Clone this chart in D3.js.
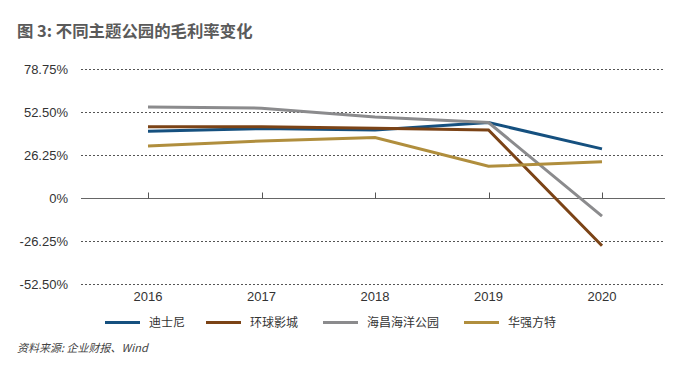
<!DOCTYPE html>
<html>
<head>
<meta charset="utf-8">
<script src="https://cdn.jsdelivr.net/npm/d3@7"></script>
<style>
body { margin:0; background:#fff; }
text { font-family: "Liberation Sans", "Noto Sans CJK SC", sans-serif; }
</style>
</head>
<body>
<script>
var years = ["2016", "2017", "2018", "2019", "2020"];
var names = ["迪士尼", "环球影城", "海昌海洋公园", "华强方特"];
var disney = [40.7, 42.3, 41.5, 46.0, 29.9];
var universal = [43.5, 43.5, 42.5, 41.5, -29.3];
var haichang = [55.5, 54.8, 49.4, 46.0, -11.2];
var fantawild = [31.7, 34.8, 36.8, 19.3, 22.1];
var yTicks = [78.75, 52.5, 26.25, 0, -26.25, -52.5];
var tickLabels = ["78.75%", "52.50%", "26.25%", "0%", "-26.25%", "-52.50%"];
var colors = ["#15507f", "#7b4316", "#8b8b8d", "#b08e3d"];
var series = [disney, universal, haichang, fantawild];

var svg = d3.select("body").append("svg").attr("width", 683).attr("height", 376);

svg.append("text").attr("x", 17).attr("y", 37).attr("fill", "#5a5a5a")
  .attr("font-size", "16.4px").attr("font-weight", "bold")
  .style("font-family", "'Noto Sans CJK SC', sans-serif")
  .text("图 3: 不同主题公园的毛利率变化");

var x = d3.scalePoint().domain(years).range([148, 602]);
var y = d3.scaleLinear().domain([-52.5, 78.75]).range([283.7, 69]);
var left = 81, right = 665;

// dotted grid lines (except zero)
svg.selectAll(".grid").data(yTicks.filter(d => d !== 0)).enter().append("line")
  .attr("x1", left).attr("x2", right)
  .attr("y1", d => Math.round(y(d)) + 0.5).attr("y2", d => Math.round(y(d)) + 0.5)
  .attr("stroke", "#555").attr("stroke-width", 1).attr("stroke-dasharray", "2,2");

// y labels
svg.selectAll(".ylab").data(yTicks).enter().append("text")
  .attr("x", 68).attr("y", d => y(d) + 5).attr("text-anchor", "end")
  .attr("font-size", "13px").attr("fill", "#333")
  .text((d, i) => tickLabels[i]);

// zero axis with ticks
var y0 = Math.round(y(0)) + 0.5;
svg.append("line").attr("x1", left).attr("x2", right).attr("y1", y0).attr("y2", y0)
  .attr("stroke", "#666").attr("stroke-width", 1.2);
svg.selectAll(".xtick").data(years).enter().append("line")
  .attr("x1", d => Math.round(x(d)) + 0.5).attr("x2", d => Math.round(x(d)) + 0.5)
  .attr("y1", y0).attr("y2", y0 - 6).attr("stroke", "#555");

svg.selectAll(".xlab").data(years).enter().append("text")
  .attr("x", d => x(d)).attr("y", 301).attr("text-anchor", "middle")
  .attr("font-size", "13px").attr("fill", "#333").text(d => d);

var line = d3.line().x((d, i) => x(years[i])).y(d => y(d));
series.forEach(function(s, k) {
  svg.append("path").datum(s).attr("d", line).attr("fill", "none")
    .attr("stroke", colors[k]).attr("stroke-width", 3);
});

// legend
var legX = [105, 206, 323, 464];
names.forEach(function(n, k) {
  svg.append("line").attr("x1", legX[k]).attr("x2", legX[k] + 35).attr("y1", 322.5).attr("y2", 322.5)
    .attr("stroke", colors[k]).attr("stroke-width", 3);
  svg.append("text").attr("x", legX[k] + 44).attr("y", 327).attr("font-size", "12px")
    .attr("fill", "#333").style("font-family", "'Noto Sans CJK SC', sans-serif").text(n);
});

svg.append("text").attr("x", 17).attr("y", 352).attr("font-size", "11px").attr("fill", "#444")
  .attr("font-style", "italic").style("font-family", "'Noto Sans CJK SC', sans-serif")
  .text("资料来源: 企业财报、Wind");
</script>
</body>
</html>
